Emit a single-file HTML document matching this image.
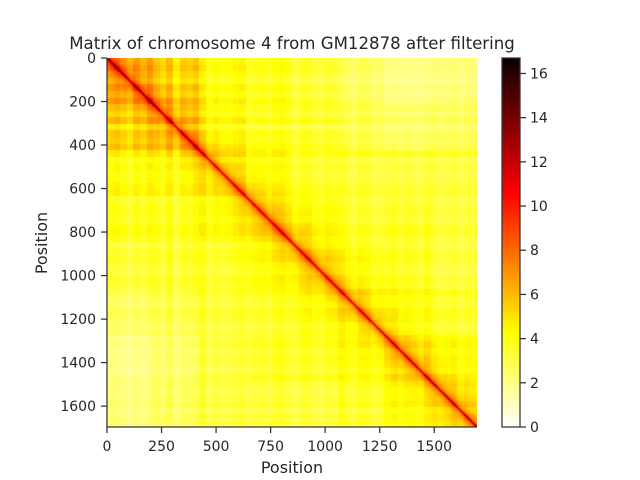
<!DOCTYPE html>
<html><head><meta charset="utf-8"><style>
html,body{margin:0;padding:0;background:#fff;}
#wrap{position:relative;width:640px;height:480px;overflow:hidden;font-family:"DejaVu Sans","Liberation Sans",sans-serif;color:#262626;}
canvas{position:absolute;}
</style></head><body>
<div id="wrap">
<canvas id="hm" width="370" height="369" style="left:107px;top:58px"></canvas>
<canvas id="cb" width="18" height="369" style="left:502px;top:58px"></canvas>
<svg id="ax" width="640" height="480" style="position:absolute;left:0;top:0"></svg>
</div>
<script>
// ---- data ----
const N = 1696;
const xTicks = [0,250,500,750,1000,1250,1500];
const yTicks = [0,200,400,600,800,1000,1200,1400,1600];
const cbTicks = [0,2,4,6,8,10,12,14,16];
const vmax = 16.7;
// background contact level per 8x8 block
const bgRow0 = [5.2,4.8,4.0,3.6,3.2,2.6,1.9,2.1];
const bgRow1 = [4.8,4.8,4.0,3.6,3.4,3.0,2.4,2.6];
const bgRow2 = [4.0,4.0,4.3,4.0,3.6,3.5,3.2,3.2];
const bgRow3 = [3.6,3.6,4.0,4.3,4.0,3.6,3.5,3.2];
const bgRow4 = [3.2,3.4,3.6,4.0,4.3,4.0,3.6,3.2];
const bgRow5 = [2.6,3.0,3.5,3.6,4.0,4.3,4.0,3.6];
const bgRow6 = [1.9,2.4,3.2,3.5,3.6,4.0,4.3,4.0];
const bgRow7 = [2.1,2.6,3.2,3.2,3.2,3.6,4.0,4.3];
// per-bin stripe factors (56 bins of ~30 units)
const stripes = [1.07,1.13,1.03,0.93,1.1,1.0,1.15,1.06,0.96,1.13,0.87,1.07,1.03,1.13,1.1,0.9,
 1.0,0.93,0.96,1.03,1.07,0.93,1.0,1.03,0.96,1.07,1.1,1.0,0.93,1.03,1.07,0.96,
 0.93,1.03,1.0,1.07,0.96,0.9,1.03,1.0,0.87,0.93,1.0,1.07,0.96,1.03,1.0,0.93,
 1.07,1.03,0.96,1.0,1.07,0.93,1.03,1.0];
// distance decay: [distance, extra value]
const decayD = [0,3,10,25,50,100,200,400,2000];
const decayV = [10,6.5,4,2.5,1.5,0.8,0.3,0,0];
</script>
<script>
const bg=[bgRow0,bgRow1,bgRow2,bgRow3,bgRow4,bgRow5,bgRow6,bgRow7];
function hot_r(v){let s=1-Math.max(0,Math.min(1,v/vmax));
 let r=Math.min(1,s/0.365),g=Math.max(0,Math.min(1,(s-0.365)/0.375)),b=Math.max(0,Math.min(1,(s-0.746)/0.254));
 r=0.0416+0.9584*r;return [r*255,g*255,b*255];}
function decay(d){for(let k=1;k<decayD.length;k++){if(d<=decayD[k]){const t=(d-decayD[k-1])/(decayD[k]-decayD[k-1]);return decayV[k-1]+t*(decayV[k]-decayV[k-1]);}}return 0;}
const W=370,H=369;
const c=document.getElementById('hm').getContext('2d');
const img=c.createImageData(W,H);
for(let py=0;py<H;py++){const ui=(py+0.5)/H*N;for(let px=0;px<W;px++){const uj=(px+0.5)/W*N;
 const bi=Math.min(7,Math.floor(ui/(N/8))),bj=Math.min(7,Math.floor(uj/(N/8)));
 const si=stripes[Math.min(stripes.length-1,Math.floor(ui/(N/stripes.length)))],sj=stripes[Math.min(stripes.length-1,Math.floor(uj/(N/stripes.length)))];
 const v=bg[bi][bj]*si*sj+decay(Math.abs(ui-uj));
 const col=hot_r(v);const o=(py*W+px)*4;img.data[o]=col[0];img.data[o+1]=col[1];img.data[o+2]=col[2];img.data[o+3]=255;}}
c.putImageData(img,0,0);
const cc=document.getElementById('cb').getContext('2d');
for(let py=0;py<369;py++){const col=hot_r((369-py-0.5)/369*vmax);cc.fillStyle=`rgb(${col[0]|0},${col[1]|0},${col[2]|0})`;cc.fillRect(0,py,18,1);}
const svg=document.getElementById('ax');const NS='http://www.w3.org/2000/svg';
function el(t,a,p){const e=document.createElementNS(NS,t);for(const k in a)e.setAttribute(k,a[k]);(p||svg).appendChild(e);return e;}
const xs=u=>107+u/N*370, ys=u=>58+u/N*369, cs=v=>427-v/vmax*369;
let e;
e=el('line',{x1:107,y1:58,x2:107,y2:427.5,stroke:'#333','stroke-width':1.25});


e=el('line',{x1:106.5,y1:427,x2:477,y2:427,stroke:'#333','stroke-width':1.25});


xTicks.forEach(t=>{const x=xs(t);
 e=el('line',{x1:x,y1:427,x2:x,y2:433,stroke:'#333','stroke-width':1.25});
 
 
 e=el('text',{x:x,y:451,'text-anchor':'middle','font-size':14,fill:'#262626'});e.textContent=t;
 
 });
yTicks.forEach(t=>{const y=ys(t);
 e=el('line',{x1:101,y1:y,x2:107,y2:y,stroke:'#333','stroke-width':1.25});
 
 
 e=el('text',{x:96,y:y+5,'text-anchor':'end','font-size':14,fill:'#262626'});e.textContent=t;
 
 });
e=el('rect',{x:502,y:58,width:18,height:369,fill:'none',stroke:'#333','stroke-width':1.25});


cbTicks.forEach(t=>{const y=cs(t);
 e=el('line',{x1:520,y1:y,x2:526,y2:y,stroke:'#333','stroke-width':1.25});
 
 
 e=el('text',{x:530,y:y+5,'font-size':14,fill:'#262626'});e.textContent=t;
 
 });
e=el('text',{x:292,y:473,'text-anchor':'middle','font-size':16,fill:'#262626'});e.textContent='Position';


e=el('text',{x:47,y:243,'text-anchor':'middle','font-size':16,fill:'#262626',transform:'rotate(-90 47 243)'});e.textContent='Position';


e=el('text',{x:292,y:49,'text-anchor':'middle','font-size':16.6,fill:'#262626'});e.textContent='Matrix of chromosome 4 from GM12878 after filtering';


</script>
</body></html>
